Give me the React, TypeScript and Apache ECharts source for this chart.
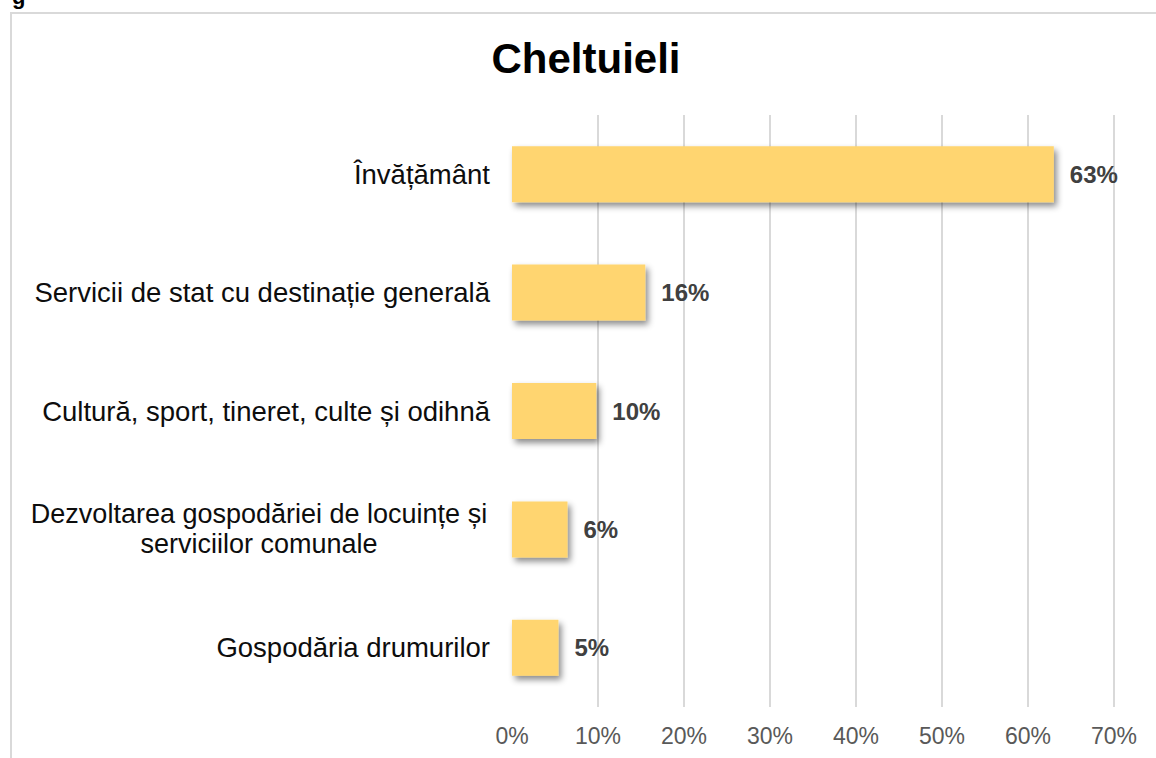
import React, { useEffect, useRef } from "react";
import * as echarts from "echarts";

const titleText = "Cheltuieli";
const categories = [
  "Învățământ",
  "Servicii de stat cu destinație generală",
  "Cultură, sport, tineret, culte și odihnă",
  "Dezvoltarea gospodăriei de locuințe și\nserviciilor comunale",
  "Gospodăria drumurilor",
];
const values = [63.0, 15.5, 9.8, 6.45, 5.4];
const tickMin = 0;
const tickMax = 70;
const tickInterval = 10;

const FONT = "'Liberation Sans', Arial, Helvetica, sans-serif";

export default function App() {
  const ref = useRef<HTMLDivElement>(null);

  useEffect(() => {
    if (!ref.current) return;
    const chart = echarts.init(ref.current, null, { renderer: "svg" });
    chart.setOption({
      animation: false,
      backgroundColor: "#ffffff",
      textStyle: { fontFamily: FONT },
      graphic: [
        {
          type: "rect",
          shape: { x: 11, y: 13, width: 1300, height: 900 },
          style: { fill: "none", stroke: "#d9d9d9", lineWidth: 2 },
          silent: true,
        },
        {
          type: "text",
          x: 12,
          y: 7,
          style: {
            text: "g",
            font: `bold 22px ${FONT}`,
            fill: "#000",
            verticalAlign: "bottom",
          },
        },
        {
          type: "text",
          x: 586,
          y: 58,
          style: {
            text: titleText,
            font: `bold 42px ${FONT}`,
            fill: "#000",
            align: "center",
            verticalAlign: "middle",
          },
        },
      ],
      grid: { left: 512, right: 42, top: 115, bottom: 51, containLabel: false },
      xAxis: {
        type: "value",
        min: tickMin,
        max: tickMax,
        interval: tickInterval,
        axisLine: { show: false },
        axisTick: { show: false },
        axisLabel: {
          formatter: (v: number) => `${v}%`,
          color: "#595959",
          fontSize: 23,
          fontFamily: FONT,
          margin: 17,
        },
        splitLine: { show: true, lineStyle: { color: "#d9d9d9", width: 2 } },
      },
      yAxis: {
        type: "category",
        data: categories,
        inverse: true,
        axisLine: { show: true, lineStyle: { color: "#ffffff", width: 3 } },
        axisTick: { show: false },
        axisLabel: {
          color: "#0d0d0d",
          fontSize: 27.5,
          fontFamily: FONT,
          margin: 22,
          align: "right",
          lineHeight: 30,
          formatter: (v: string) => {
            if (v.indexOf("\n") >= 0) {
              return v
                .split("\n")
                .map((l) => `{c|${l}}`)
                .join("\n");
            }
            return v;
          },
          rich: {
            c: {
              width: 462,
              align: "center",
              fontSize: 27,
              lineHeight: 30,
              color: "#0d0d0d",
              fontFamily: FONT,
            },
          },
        },
      },
      series: [
        {
          type: "bar",
          data: values,
          barWidth: 56,
          itemStyle: {
            color: "#FFD56F",
            shadowColor: "rgba(0,0,0,0.45)",
            shadowBlur: 6,
            shadowOffsetX: 3,
            shadowOffsetY: 4,
          },
          label: {
            show: true,
            position: "right",
            distance: 16,
            formatter: (p: any) => `${Math.round(p.value)}%`,
            color: "#404040",
            fontSize: 24,
            fontWeight: "bold",
            fontFamily: FONT,
          },
        },
      ],
    });
    return () => chart.dispose();
  }, []);

  return (
    <div
      ref={ref}
      style={{ position: "fixed", left: 0, top: 0, width: 1156, height: 758 }}
    />
  );
}
